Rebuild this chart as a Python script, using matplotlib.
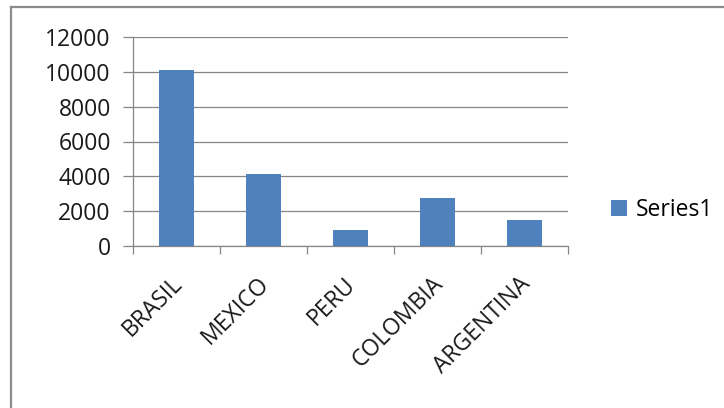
import matplotlib
matplotlib.use("Agg")
import matplotlib.pyplot as plt
from matplotlib.lines import Line2D
import matplotlib.transforms as mtransforms

categories = ["BRASIL", "MEXICO", "PERU", "COLOMBIA", "ARGENTINA"]
values = [10100, 4150, 900, 2750, 1500]
yticks = [0, 2000, 4000, 6000, 8000, 10000, 12000]
series_name = "Series1"

plt.rcParams["font.family"] = ["Open Sans", "DejaVu Sans"]

W, H = 724, 408
fig = plt.figure(figsize=(W / 100, H / 100), dpi=100)
fig.patch.set_facecolor("white")

ax = fig.add_axes([133 / W, 1 - 246 / H, (568 - 133) / W, (246 - 37) / H])

axis_gray = "#868686"
x = list(range(len(categories)))
bars = ax.bar(x, values, width=0.4, color="#4F81BD", zorder=3, label=series_name)

ax.set_xlim(-0.5, len(categories) - 0.5)
ax.set_ylim(0, 12000)
ax.set_yticks(yticks)
ax.set_yticklabels([str(v) for v in yticks], fontsize=16.5, color="#1a1a1a")
ax.yaxis.grid(True, color=axis_gray, linewidth=0.9, zorder=0)
ax.set_axisbelow(True)

ax.set_xticks(x)
ax.set_xticklabels(categories, rotation=45, ha="right", va="center",
                   rotation_mode="anchor", fontsize=16.5, color="#1a1a1a")
ax.set_xticks([i - 0.5 for i in range(len(categories) + 1)], minor=True)
ax.tick_params(axis="x", which="major", length=0, pad=25)
ax.tick_params(axis="x", which="minor", length=6, width=0.9, color=axis_gray, direction="out")
ax.tick_params(axis="y", length=7, width=0.9, color=axis_gray, direction="out", pad=9)

offset = mtransforms.ScaledTranslation(2 / 100, 0, fig.dpi_scale_trans)
for lbl in ax.get_xticklabels():
    lbl.set_transform(lbl.get_transform() + offset)

for side in ("top", "right"):
    ax.spines[side].set_visible(False)
for side in ("left", "bottom"):
    ax.spines[side].set_color(axis_gray)
    ax.spines[side].set_linewidth(0.9)

leg = fig.legend(handles=[bars], labels=[series_name], loc="center left",
                 bbox_to_anchor=(611 / W, 1 - 210 / H), frameon=False,
                 fontsize=16.5, handlelength=0.7, handleheight=0.7,
                 handletextpad=0.4, borderaxespad=0, borderpad=0)

# chart frame
fig.add_artist(Line2D([11 / W, 1.0], [1 - 7 / H, 1 - 7 / H], transform=fig.transFigure,
                      color="#8c8c8c", linewidth=1.6))
fig.add_artist(Line2D([11 / W, 11 / W], [0.0, 1 - 7 / H], transform=fig.transFigure,
                      color="#8c8c8c", linewidth=1.6))

fig.savefig("out.png", dpi=100)
